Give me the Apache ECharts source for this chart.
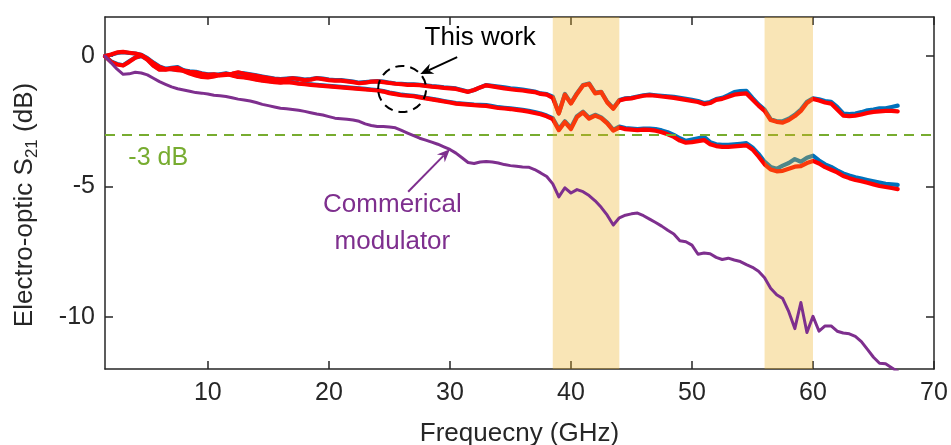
<!DOCTYPE html>
<html>
<head>
<meta charset="utf-8">
<script src="https://cdn.jsdelivr.net/npm/echarts@6/dist/echarts.min.js"></script>
<style>
  html, body { margin: 0; padding: 0; background: #fff; }
  #chart { width: 951px; height: 445px; }
</style>
</head>
<body>
<div id="chart"></div>
<script>
// Frequency sample points (GHz)
const freq = [
  1.5, 2, 2.5, 3, 3.5, 4, 4.5, 5, 5.5, 6,
  6.5, 7, 7.5, 8, 8.5, 9, 9.5, 10, 10.5, 11,
  11.5, 12, 12.5, 13, 13.5, 14, 14.5, 15, 15.5, 16,
  16.5, 17, 17.5, 18, 18.5, 19, 19.5, 20, 20.5, 21,
  21.5, 22, 22.5, 23, 23.5, 24, 24.5, 25, 25.5, 26,
  26.5, 27, 27.5, 28, 28.5, 29, 29.5, 30, 30.5, 31,
  31.5, 32, 32.5, 33, 33.5, 34, 34.5, 35, 35.5, 36,
  36.5, 37, 37.5, 38, 38.5, 39, 39.5, 40, 40.5, 41,
  41.5, 42, 42.5, 43, 43.5, 44, 44.5, 45, 45.5, 46,
  46.5, 47, 47.5, 48, 48.5, 49, 49.5, 50, 50.5, 51,
  51.5, 52, 52.5, 53, 53.5, 54, 54.5, 55, 55.5, 56,
  56.5, 57, 57.5, 58, 58.5, 59, 59.5, 60, 60.5, 61,
  61.5, 62, 62.5, 63, 63.5, 64, 64.5, 65, 65.5, 66,
  66.5, 67
];

// This work, device A (upper pair of traces), dB
const upperBlue = [
  0.0, 0.05, 0.12, 0.15, 0.12, 0.1, 0.05, -0.08, -0.25, -0.4,
  -0.48, -0.5, -0.52, -0.55, -0.58, -0.6, -0.66, -0.7, -0.7, -0.72,
  -0.7, -0.68, -0.64, -0.66, -0.7, -0.74, -0.78, -0.82, -0.86, -0.88,
  -0.86, -0.84, -0.86, -0.9, -0.88, -0.84, -0.86, -0.9, -0.92, -0.92,
  -0.95, -0.98, -1.02, -1.0, -0.98, -0.96, -0.98, -1.02, -1.05, -1.06,
  -1.08, -1.08, -1.1, -1.12, -1.15, -1.17, -1.2, -1.22, -1.24, -1.3,
  -1.37, -1.3, -1.2, -1.11, -1.14, -1.17, -1.2, -1.24, -1.26, -1.28,
  -1.32, -1.36, -1.43, -1.46, -1.56, -2.19, -1.45, -1.8, -1.42, -1.11,
  -1.05, -1.4, -1.37, -1.75, -2.0, -1.68, -1.62, -1.6, -1.55, -1.5,
  -1.48, -1.5, -1.52, -1.54, -1.56, -1.6, -1.64, -1.68, -1.72, -1.8,
  -1.76, -1.65, -1.6, -1.5, -1.38, -1.34, -1.33, -1.6, -1.85, -2.05,
  -2.42, -2.5, -2.5, -2.4, -2.25, -2.05, -1.75, -1.62, -1.66, -1.72,
  -1.75, -1.95, -2.2, -2.22, -2.2, -2.15, -2.08, -2.05, -2.0, -2.0,
  -1.95, -1.9
];
const upperRed = [
  0.0, 0.06, 0.14, 0.16, 0.13, 0.1, 0.04, -0.1, -0.27, -0.42,
  -0.5, -0.5, -0.54, -0.56, -0.6, -0.62, -0.68, -0.72, -0.7, -0.74,
  -0.72, -0.68, -0.62, -0.68, -0.72, -0.76, -0.8, -0.84, -0.88, -0.9,
  -0.88, -0.85, -0.88, -0.92, -0.9, -0.85, -0.88, -0.92, -0.94, -0.94,
  -0.97, -1.0, -1.04, -1.02, -0.98, -0.97, -1.0, -1.03, -1.06, -1.08,
  -1.1, -1.1, -1.11, -1.14, -1.17, -1.19, -1.22, -1.24, -1.26, -1.32,
  -1.37, -1.3, -1.2, -1.12, -1.16, -1.2, -1.24, -1.27, -1.3, -1.32,
  -1.35, -1.38, -1.45, -1.48, -1.6, -2.2, -1.48, -1.82, -1.45, -1.13,
  -1.07, -1.43, -1.38, -1.78, -2.02, -1.7, -1.64, -1.62, -1.57, -1.52,
  -1.5, -1.52, -1.55, -1.57, -1.6, -1.64, -1.68, -1.72, -1.76, -1.84,
  -1.8, -1.68, -1.64, -1.56, -1.48, -1.45, -1.43, -1.66, -1.9, -2.1,
  -2.45, -2.52, -2.55, -2.45, -2.3, -2.1, -1.8, -1.64, -1.7, -1.78,
  -1.82, -2.05, -2.28, -2.3, -2.28, -2.24, -2.18, -2.14, -2.12, -2.1,
  -2.1, -2.12
];

// This work, device B (lower pair of traces), dB
const lowerBlue = [
  0.0, -0.2, -0.3, -0.35, -0.2, -0.05, 0.0, -0.12, -0.35, -0.5,
  -0.5, -0.45, -0.42, -0.55, -0.65, -0.72, -0.78, -0.8, -0.76, -0.7,
  -0.66, -0.72, -0.78, -0.8, -0.84, -0.88, -0.92, -0.95, -0.98, -1.0,
  -0.98, -1.0, -1.04, -1.06, -1.08, -1.1, -1.12, -1.14, -1.16, -1.18,
  -1.2, -1.22, -1.24, -1.26, -1.28, -1.3, -1.34, -1.4, -1.44, -1.48,
  -1.5, -1.52, -1.56, -1.6, -1.64, -1.68, -1.72, -1.76, -1.8, -1.82,
  -1.84, -1.86, -1.87, -1.88, -1.92, -1.96, -1.98, -2.0, -2.03, -2.06,
  -2.1, -2.15, -2.2, -2.28, -2.38, -2.8, -2.5, -2.75, -2.3, -2.13,
  -2.36, -2.25, -2.35, -2.55, -2.83, -2.7, -2.76, -2.78, -2.8, -2.78,
  -2.78, -2.8, -2.85, -2.92, -3.02, -3.15, -3.25, -3.2, -3.15, -3.1,
  -3.3, -3.38, -3.4, -3.4, -3.38, -3.36, -3.34, -3.5, -3.75, -4.05,
  -4.25, -4.32, -4.2, -4.1, -3.95, -4.05, -3.9, -3.82, -4.0, -4.15,
  -4.25, -4.38, -4.5, -4.58, -4.65, -4.7, -4.75, -4.8, -4.85, -4.9,
  -4.92, -4.94
];
const lowerRed = [
  0.0, -0.22, -0.32, -0.36, -0.22, -0.06, 0.02, -0.14, -0.37, -0.52,
  -0.52, -0.47, -0.45, -0.57, -0.67, -0.74, -0.8, -0.82, -0.78, -0.72,
  -0.68, -0.74, -0.8, -0.82, -0.86, -0.9, -0.94, -0.97, -1.0, -1.02,
  -1.0, -1.02, -1.06, -1.08, -1.1, -1.12, -1.14, -1.16, -1.18, -1.2,
  -1.22, -1.24, -1.26, -1.28, -1.3, -1.32, -1.36, -1.42, -1.46, -1.5,
  -1.52, -1.54, -1.58, -1.62, -1.66, -1.7, -1.74, -1.78, -1.82, -1.84,
  -1.86, -1.88, -1.9, -1.91, -1.95, -1.99, -2.01, -2.03, -2.06, -2.09,
  -2.13, -2.18, -2.23, -2.31, -2.42, -2.84, -2.53, -2.8, -2.34, -2.16,
  -2.4, -2.28, -2.38, -2.58, -2.86, -2.74, -2.8, -2.82, -2.84, -2.82,
  -2.83, -2.86, -2.92, -3.0, -3.1, -3.24, -3.32, -3.3, -3.26, -3.22,
  -3.38, -3.45, -3.48, -3.48, -3.46, -3.44, -3.42, -3.58, -3.85, -4.15,
  -4.35, -4.42, -4.4, -4.32, -4.24, -4.22, -4.1, -4.02, -4.12, -4.26,
  -4.36, -4.46, -4.6, -4.68, -4.75, -4.8, -4.86, -4.92, -4.98, -5.02,
  -5.06, -5.1
];

// Commercial modulator, dB
const commercial = [
  0.0, -0.25, -0.5, -0.7, -0.68, -0.62, -0.65, -0.72, -0.85, -0.98,
  -1.08, -1.18, -1.25, -1.3, -1.35, -1.4, -1.42, -1.45, -1.5, -1.52,
  -1.55, -1.6, -1.65, -1.68, -1.72, -1.78, -1.85, -1.9, -1.95, -2.0,
  -2.02, -2.05, -2.08, -2.12, -2.17, -2.22, -2.26, -2.32, -2.38, -2.4,
  -2.42, -2.45, -2.5, -2.6, -2.66, -2.7, -2.7, -2.72, -2.75, -2.85,
  -2.95, -3.05, -3.15, -3.22, -3.3, -3.38, -3.48, -3.58, -3.72, -3.9,
  -4.08, -4.12, -4.06, -4.04, -4.06, -4.1, -4.16, -4.2, -4.22, -4.25,
  -4.26, -4.35, -4.48, -4.62, -4.9, -5.4, -5.05, -5.25, -5.12, -5.2,
  -5.35, -5.55, -5.8, -6.1, -6.48, -6.2, -6.1, -6.05, -6.02, -6.12,
  -6.25, -6.38, -6.52, -6.68, -6.82, -7.08, -7.12, -7.25, -7.6, -7.55,
  -7.58, -7.72, -7.8, -7.75, -7.82, -7.88, -8.0, -8.1, -8.25, -8.5,
  -8.9, -9.15, -9.3, -9.8, -10.45, -9.45, -10.6, -9.98, -10.55, -10.35,
  -10.35, -10.55, -10.62, -10.65, -10.75, -10.95, -11.25, -11.55, -11.78, -11.8,
  -11.95, -12.1
];

// Highlighted frequency bands (GHz)
const bands = [[38.5, 44], [56, 60]];

// Axis ranges and ticks
const xRange = [1.5, 70];
const yRange = [-12, 1.5];
const xTicks = [10, 20, 30, 40, 50, 60, 70];
const yTicks = [-10, -5, 0];
const refLevel = -3;

const FONT = '"Liberation Sans", Arial, Helvetica, sans-serif';
const AXIS_COLOR = '#262626';
const BLUE = '#0072bd';
const RED = '#ff0000';
const PURPLE = '#7e2f8e';
const GREEN = '#77ac30';

const chart = echarts.init(document.getElementById('chart'), null, { renderer: 'canvas' });

const pairs = ys => freq.map((f, i) => [f, ys[i]]);

function traceSeries(name, ys, color, width, z) {
  return {
    name, type: 'line', data: pairs(ys), showSymbol: false, symbol: 'none',
    lineStyle: { color, width, join: 'round', cap: 'round' },
    z: z, silent: true, clip: true
  };
}

function baseX(pos, showLabels) {
  return {
    type: 'value', position: pos, min: xRange[0], max: xRange[1],
    axisLine: { show: true, onZero: false, lineStyle: { color: AXIS_COLOR, width: 1.5 } },
    axisTick: { show: true, inside: true, length: 8, customValues: xTicks, lineStyle: { color: AXIS_COLOR, width: 1.5 } },
    axisLabel: { show: showLabels, customValues: xTicks, margin: 12, color: '#262626', fontSize: 25, fontFamily: FONT },
    splitLine: { show: false }
  };
}
function baseY(pos, showLabels) {
  return {
    type: 'value', position: pos, min: yRange[0], max: yRange[1],
    axisLine: { show: true, onZero: false, lineStyle: { color: AXIS_COLOR, width: 1.5 } },
    axisTick: { show: true, inside: true, length: 8, customValues: yTicks, lineStyle: { color: AXIS_COLOR, width: 1.5 } },
    axisLabel: { show: showLabels, customValues: yTicks, margin: 10, color: '#262626', fontSize: 25, fontFamily: FONT },
    splitLine: { show: false }
  };
}

const xMain = Object.assign(baseX('bottom', true), {
  name: 'Frequecny (GHz)', nameLocation: 'middle', nameGap: 52,
  nameTextStyle: { color: '#262626', fontSize: 26, fontFamily: FONT }
});
const yMain = Object.assign(baseY('left', true), {
  name: '{a|Electro-optic S}{s|21}{a| (dB)}', nameLocation: 'middle', nameGap: 64, nameRotate: 90,
  nameTextStyle: {
    color: '#262626', fontFamily: FONT, padding: [0, 24, 0, 0],
    rich: {
      a: { fontSize: 26, lineHeight: 32, color: '#262626', fontFamily: FONT },
      s: { fontSize: 17, lineHeight: 17, verticalAlign: 'bottom', color: '#262626', fontFamily: FONT }
    }
  }
});

chart.setOption({
  animation: false,
  backgroundColor: '#ffffff',
  grid: { left: 105, right: 17, top: 17, bottom: 76, containLabel: false, outerBoundsMode: 'none' },
  xAxis: [xMain, baseX('top', false)],
  yAxis: [yMain, baseY('right', false)],
  series: [
    traceSeries('Device A (blue)', upperBlue, BLUE, 4.2, 2),
    traceSeries('Device B (blue)', lowerBlue, BLUE, 4.2, 2),
    traceSeries('Device A (red)', upperRed, RED, 4.2, 3),
    traceSeries('Device B (red)', lowerRed, RED, 4.2, 3),
    Object.assign(traceSeries('Commercial modulator', commercial, PURPLE, 3, 6), {
      markLine: {
        silent: true, symbol: ['none', 'none'], label: { show: false },
        lineStyle: { color: GREEN, width: 2, type: [10, 7] },
        data: [{ yAxis: refLevel }]
      }
    }),
    {
      name: 'bands', type: 'custom', silent: true, z: 5,
      data: bands,
      encode: { x: [0, 1] },
      renderItem(params, api) {
        const a = api.coord([api.value(0), 0]);
        const b = api.coord([api.value(1), 0]);
        const cs = params.coordSys;
        return {
          type: 'rect',
          shape: { x: a[0], y: cs.y, width: b[0] - a[0], height: cs.height },
          style: { fill: 'rgba(237,177,32,0.33)' }
        };
      }
    }
  ]
});

// Annotations anchored in data coordinates
const toPx = p => chart.convertToPixel({ xAxisIndex: 0, yAxisIndex: 0 }, p);

function arrow(tail, tip, color, width) {
  const dx = tip[0] - tail[0], dy = tip[1] - tail[1];
  const len = Math.hypot(dx, dy);
  const ux = dx / len, uy = dy / len, nx = -uy, ny = ux;
  const L = 13, W = 5.5, notch = 4;
  const base = [tip[0] - L * ux, tip[1] - L * uy];
  const inner = [tip[0] - (L - notch) * ux, tip[1] - (L - notch) * uy];
  return [
    { type: 'line', z: 20, shape: { x1: tail[0], y1: tail[1], x2: inner[0], y2: inner[1] },
      style: { stroke: color, lineWidth: width } },
    { type: 'polygon', z: 20, shape: { points: [
        tip, [base[0] + W * nx, base[1] + W * ny], inner, [base[0] - W * nx, base[1] - W * ny]
      ] }, style: { fill: color } }
  ];
}

const ringC = toPx([26.05, -1.26]);
const workTextP = toPx([32.5, 0.69]);
const workTail = toPx([30.6, -0.04]);
const workTip = toPx([27.55, -0.69]);
const commTextP = toPx([25.25, -6.4]);
const commTail = toPx([26.55, -5.2]);
const commTip = toPx([30.0, -3.57]);
const refTextP = toPx([5.9, -3.9]);

chart.setOption({
  graphic: [
    { type: 'ellipse', z: 20, shape: { cx: ringC[0], cy: ringC[1], rx: 24, ry: 23 },
      style: { fill: 'none', stroke: '#000', lineWidth: 2, lineDash: [9, 6] } },
    { type: 'text', z: 20, x: workTextP[0], y: workTextP[1],
      style: { text: 'This work', fill: '#000', font: '26px ' + FONT, align: 'center', verticalAlign: 'middle' } },
    ...arrow(workTail, workTip, '#000', 2),
    { type: 'text', z: 20, x: commTextP[0], y: commTextP[1],
      style: { text: 'Commerical\nmodulator', fill: PURPLE, font: '26px ' + FONT, align: 'center',
               verticalAlign: 'middle', lineHeight: 37 } },
    ...arrow(commTail, commTip, PURPLE, 2),
    { type: 'text', z: 20, x: refTextP[0], y: refTextP[1],
      style: { text: '-3 dB', fill: GREEN, font: '25px ' + FONT, align: 'center', verticalAlign: 'middle' } }
  ]
});
</script>
</body>
</html>
